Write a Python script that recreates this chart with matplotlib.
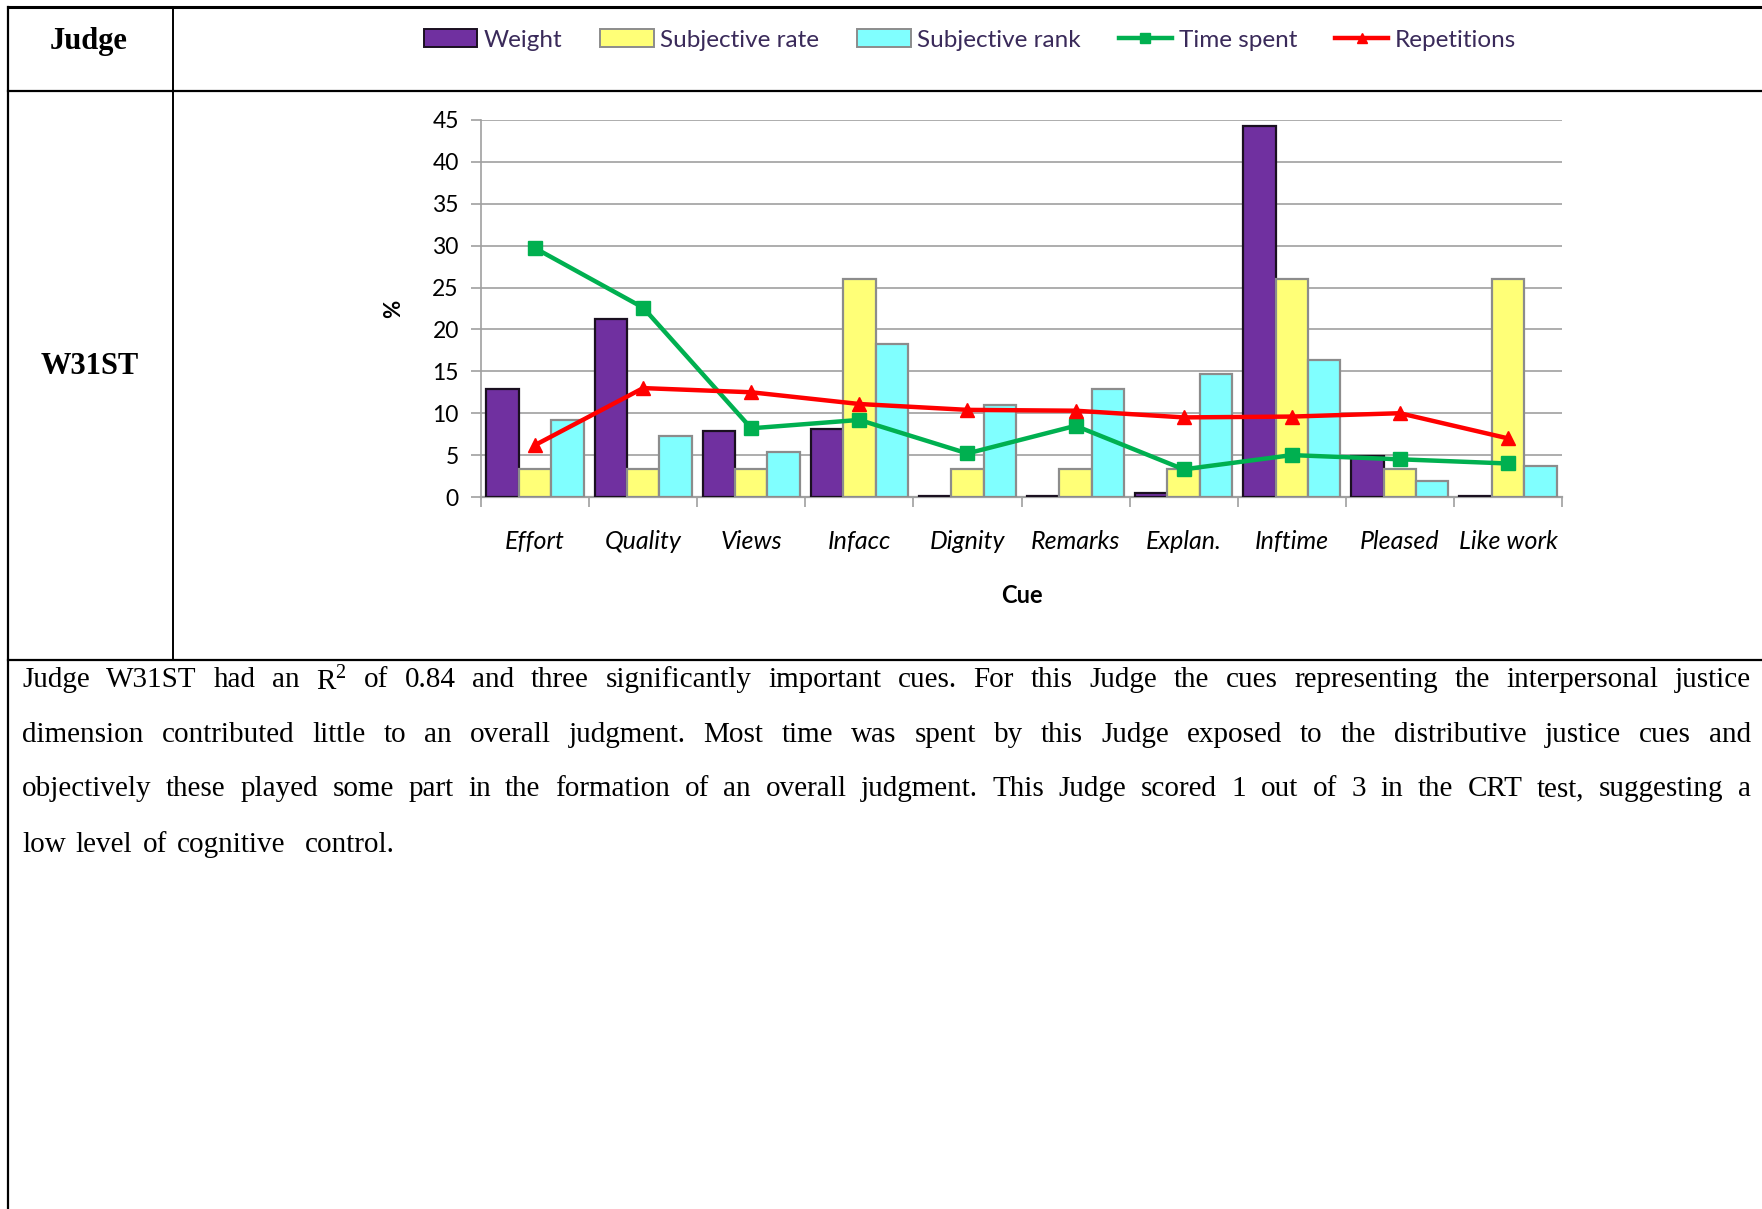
import matplotlib
matplotlib.use("Agg")
import matplotlib.pyplot as plt
import numpy as np
from matplotlib.lines import Line2D
from matplotlib.patches import Patch

cues = ["Effort", "Quality", "Views", "Infacc", "Dignity", "Remarks",
        "Explan.", "Inftime", "Pleased", "Like work"]
weight = [12.9, 21.3, 7.9, 8.1, 0.1, 0.1, 0.5, 44.3, 4.9, 0.1]
subjective_rate = [3.3, 3.3, 3.3, 26.0, 3.3, 3.3, 3.3, 26.0, 3.3, 26.0]
subjective_rank = [9.2, 7.3, 5.4, 18.3, 11.0, 12.9, 14.7, 16.4, 1.9, 3.7]
time_spent = [29.7, 22.6, 8.2, 9.2, 5.2, 8.5, 3.3, 5.0, 4.5, 4.0]
repetitions = [6.2, 13.0, 12.5, 11.1, 10.4, 10.3, 9.5, 9.6, 10.0, 7.0]
yticks = [0, 5, 10, 15, 20, 25, 30, 35, 40, 45]

W, H = 1762, 1209
fig = plt.figure(figsize=(W / 100, H / 100), dpi=100)

def fx(px):
    return px / W

def fy(py):
    return 1 - py / H

# ---- table lines ----
lk = dict(color="black", transform=fig.transFigure, clip_on=False)
fig.add_artist(Line2D([fx(8), 1], [fy(7), fy(7)], lw=2.2, **lk))
fig.add_artist(Line2D([fx(8), fx(8)], [fy(7), 0], lw=1.6, **lk))
fig.add_artist(Line2D([fx(173), fx(173)], [fy(7), fy(660)], lw=1.4, **lk))
fig.add_artist(Line2D([fx(8), 1], [fy(91), fy(91)], lw=1.6, **lk))
fig.add_artist(Line2D([fx(8), 1], [fy(660), fy(660)], lw=1.6, **lk))

serif = "Liberation Serif"
fig.text(fx(89), fy(41), "Judge", family=serif, weight="bold", fontsize=22,
         ha="center", va="center")
fig.text(fx(90), fy(367), "W31ST", family=serif, weight="bold", fontsize=22,
         ha="center", va="center")

# ---- chart ----
sans = "Lato"
ax = fig.add_axes([fx(481), fy(497), fx(1562) - fx(481), fy(120) - fy(497)])
x = np.arange(len(cues))
bw = 0.3
ax.bar(x - bw, weight, bw, color="#7030A0", edgecolor="#1a1020", lw=1.6,
       label="Weight", zorder=3)
ax.bar(x, subjective_rate, bw, color="#FFFF77", edgecolor="#8c8c8c", lw=1.6,
       label="Subjective rate", zorder=3)
ax.bar(x + bw, subjective_rank, bw, color="#80FFFF", edgecolor="#8c8c8c", lw=1.6,
       label="Subjective rank", zorder=3)
ax.plot(x, time_spent, color="#00B050", lw=3.2, marker="s", ms=10,
        label="Time spent", zorder=5)
ax.plot(x, repetitions, color="#FF0000", lw=3.2, marker="^", ms=10,
        label="Repetitions", zorder=5)

ax.set_xlim(-0.5, len(cues) - 0.5)
ax.set_ylim(0, 45)
ax.set_yticks(yticks)
ax.set_yticklabels([str(v) for v in yticks], family=sans, fontsize=16.5)
ax.yaxis.grid(True, color="#a0a0a0", lw=1.2, zorder=0)
ax.set_axisbelow(True)
for s in ["top", "right"]:
    ax.spines[s].set_visible(False)
ax.spines["left"].set_color("#a0a0a0")
ax.spines["bottom"].set_color("#a0a0a0")
ax.spines["left"].set_linewidth(1.2)
ax.spines["bottom"].set_linewidth(1.6)
ax.set_xticks(x)
ax.set_xticklabels(cues, family=sans, style="italic", fontsize=18)
ax.set_xticks(np.arange(-0.5, len(cues), 1.0), minor=True)
ax.tick_params(axis="x", which="major", length=0, pad=24)
ax.tick_params(axis="x", which="minor", length=7, color="#a0a0a0", width=1.2)
ax.tick_params(axis="y", length=7, color="#a0a0a0", width=1.2, pad=9)
ax.set_xlabel("Cue", family=sans, weight="bold", fontsize=17, labelpad=22)
ax.set_ylabel("%", family=sans, weight="bold", fontsize=16, labelpad=20)

handles = [
    Patch(facecolor="#7030A0", edgecolor="#1a1020", lw=1.4, label="Weight"),
    Patch(facecolor="#FFFF77", edgecolor="#8c8c8c", lw=1.4, label="Subjective rate"),
    Patch(facecolor="#80FFFF", edgecolor="#8c8c8c", lw=1.4, label="Subjective rank"),
    Line2D([], [], color="#00B050", lw=3.2, marker="s", ms=7, label="Time spent"),
    Line2D([], [], color="#FF0000", lw=3.2, marker="^", ms=7, label="Repetitions"),
]
fig.legend(handles=handles, loc="center", bbox_to_anchor=(fx(970), fy(40)),
           ncol=5, frameon=False, prop={"family": sans, "size": 17.5},
           handlelength=2.2, handleheight=0.7, handletextpad=0.28,
           columnspacing=1.55, labelcolor="#3a2a5a")

# ---- justified paragraph ----
plt.rcParams["mathtext.fontset"] = "custom"
plt.rcParams["mathtext.rm"] = serif
lines = [
    "Judge W31ST had an R$^2$ of 0.84 and three significantly important cues. For this Judge the cues representing the interpersonal justice",
    "dimension contributed little to an overall judgment. Most time was spent by this Judge exposed to the distributive justice cues and",
    "objectively these played some part in the formation of an overall judgment. This Judge scored 1 out of 3 in the CRT test, suggesting a",
    "low level of cognitive  control.",
]
line_y = [680, 735, 789, 845]
left_px, right_px = 22, 1751
renderer = fig.canvas.get_renderer()
for li, (ln, yy) in enumerate(zip(lines, line_y)):
    words = ln.split(" ")
    texts = [fig.text(0, fy(yy), w, family=serif, fontsize=21, va="center",
                      ha="left") if w else None for w in words]
    widths = [t.get_window_extent(renderer).width if t is not None else 0
              for t in texts]
    if li < len(lines) - 1:
        gap = (right_px - left_px - sum(widths)) / (len(words) - 1)
    else:
        gap = 10
    cur = left_px
    for t, wdt in zip(texts, widths):
        if t is not None:
            t.set_x(fx(cur))
        cur += wdt + gap

fig.savefig("out.png", dpi=100)
